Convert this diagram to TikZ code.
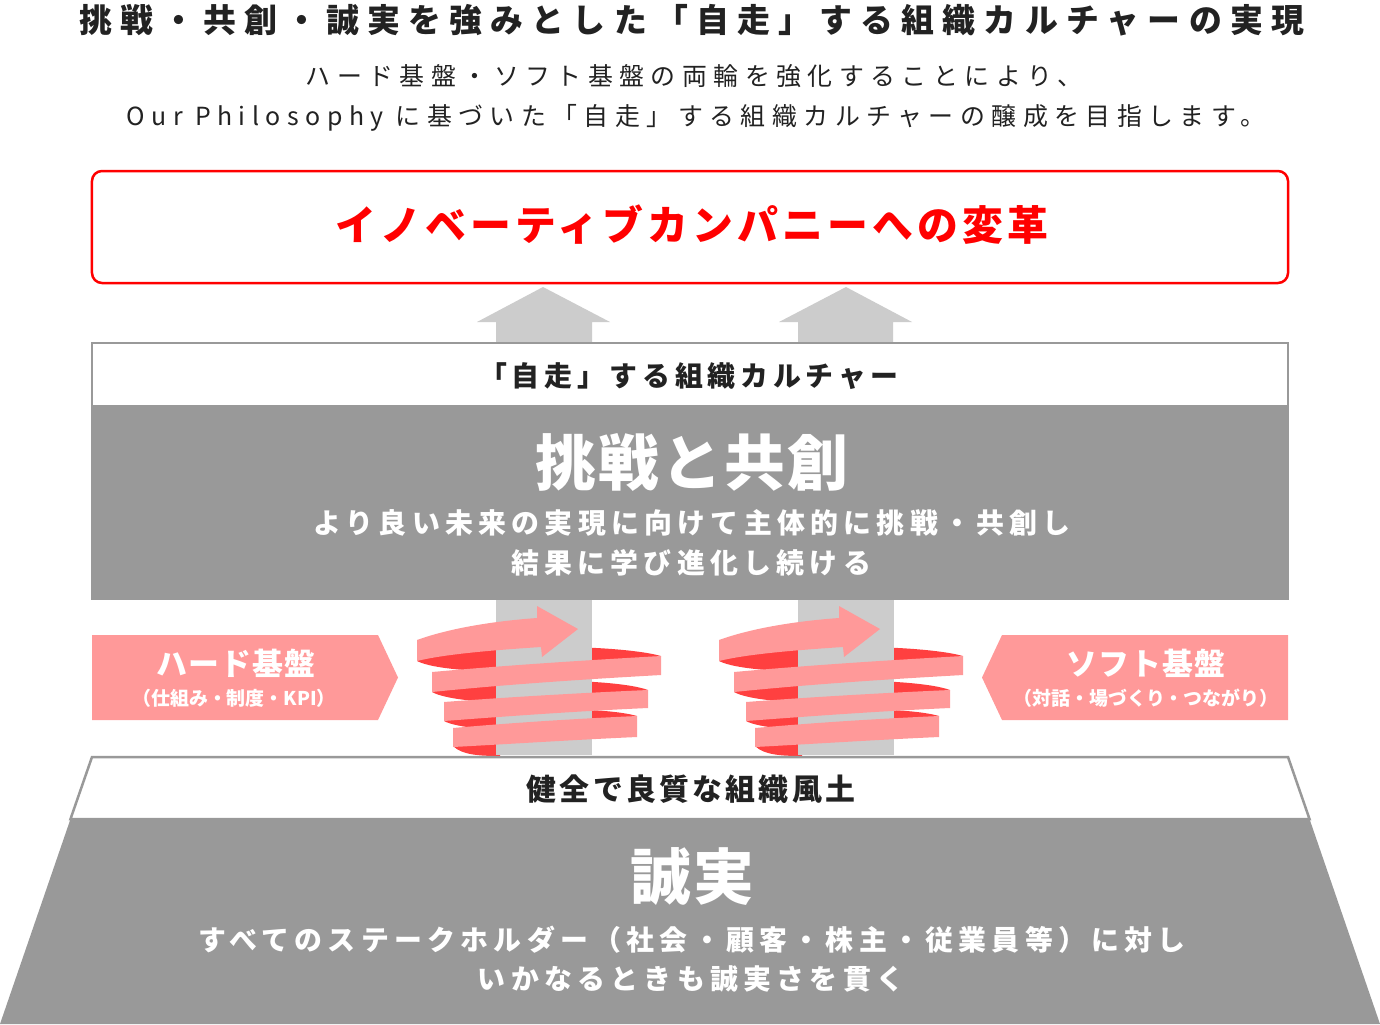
\documentclass[tikz,border=0pt]{standalone}
\usepackage{fontspec}
\setmainfont{Noto Sans CJK JP}
\definecolor{gdark}{HTML}{999999}
\definecolor{glight}{HTML}{CCCCCC}
\definecolor{pinkband}{HTML}{FF9999}
\definecolor{rdark}{HTML}{FF4040}
\definecolor{redmain}{HTML}{FF0000}
\definecolor{txtdark}{HTML}{222222}
\newcommand\jfb[2]{\fontsize{#1}{#1}\selectfont\bfseries\addfontfeature{LetterSpace=#2}}
\newcommand\jfr[2]{\fontsize{#1}{#1}\selectfont\addfontfeature{LetterSpace=#2}}
\newcommand\spiralribbon{%
  % back side of ribbon
  \fill[rdark] (417,661) .. controls (440,644) and (610,642) .. (661,656) .. controls (620,674) and (450,678) .. (417,661) -- cycle;
  \fill[rdark] (432,692) .. controls (450,678) and (610,676) .. (648,690) .. controls (610,706) and (460,708) .. (432,692) -- cycle;
  \fill[rdark] (444,721) .. controls (460,707) and (600,705) .. (637,716) .. controls (600,733) and (470,735) .. (444,721) -- cycle;
  \fill[rdark] (453,746) .. controls (462,755) and (480,756) .. (500,756) -- (500,738) -- cycle;
  % column
  \fill[glight] (496,600) rectangle (592,755);
  % front side of ribbon
  \fill[pinkband] (417,640) .. controls (450,628) and (495,621) .. (537,618) -- (537,606) -- (578,629) -- (542,657) -- (541,647) .. controls (495,650) and (445,654) .. (417,661) -- cycle;
  \fill[pinkband] (432,672) .. controls (510,665) and (590,660) .. (661,656) -- (661,675) .. controls (590,679) and (510,684) .. (432,692) -- cycle;
  \fill[pinkband] (444,702) .. controls (510,697) and (580,693) .. (648,690) -- (648,708) .. controls (580,711) and (510,716) .. (444,721) -- cycle;
  \fill[pinkband] (453,728) .. controls (510,723) and (570,719) .. (637,716) -- (637,737) .. controls (570,740) and (510,744) .. (453,747) -- cycle;
}
\begin{document}
\begin{tikzpicture}[x=1bp,y=-1bp,
  txtnode/.style={inner sep=0pt, anchor=center},
  upshape/.style={fill=glight},
  bandbox/.style={draw=gdark, line width=2bp, fill=white},
  baseshape/.style={fill=pinkband}]
\useasboundingbox (0,0) rectangle (1380,1024);
\fill[white] (0,0) rectangle (1380,1024);

% heading
\node[txtnode, text=txtdark, font=\jfb{33}{25}] (title) at (692,20) {挑戦・共創・誠実を強みとした「自走」する組織カルチャーの実現};
\node[txtnode, text=txtdark, font=\jfr{25}{26}] (sub1) at (694,76) {ハード基盤・ソフト基盤の両輪を強化することにより、};
\node[txtnode, text=txtdark, font=\jfr{25}{26}] (sub2) at (696,118) {Our Philosophy に基づいた「自走」する組織カルチャーの醸成を目指します。};

% goal box
\node[draw=redmain, line width=2.5bp, rounded corners=10bp, minimum width=1196bp, minimum height=112bp, inner sep=0pt] (goal) at (690,227) {};
\node[txtnode, text=redmain, font=\jfb{41}{10}] (goaltext) at (692,225) {イノベーティブカンパニーへの変革};

% up arrows
\fill[upshape] (543,287) -- (610,322) -- (592,322) -- (592,343) -- (496,343) -- (496,322) -- (477,322) -- cycle;
\fill[upshape] (846,287) -- (912,322) -- (893,322) -- (893,343) -- (798,343) -- (798,322) -- (779,322) -- cycle;

% culture band
\node[bandbox, minimum width=1196bp, minimum height=63bp, inner sep=0pt] (culture) at (690,374.5) {};
\node[txtnode, text=txtdark, font=\jfb{28}{17}] (culturetext) at (689,376) {「自走」する組織カルチャー};
\fill[gdark] (91,406) rectangle (1289,600);
\node[txtnode, text=white, font=\jfb{61}{4}] (challenge) at (692,462) {挑戦と共創};
\node[txtnode, text=white, font=\jfb{28}{19}] (ch1) at (692,523) {より良い未来の実現に向けて主体的に挑戦・共創し};
\node[txtnode, text=white, font=\jfb{28}{19}] (ch2) at (691,563) {結果に学び進化し続ける};

% spirals
\spiralribbon
\begin{scope}[shift={(302,0)}]
\spiralribbon
\end{scope}

% hard / soft foundations
\fill[baseshape] (92,635) -- (378,635) -- (398,677.5) -- (378,720) -- (92,720) -- cycle;
\node[txtnode, text=white, font=\jfb{31}{3}] (hard) at (236,663) {ハード基盤};
\node[txtnode, text=white, font=\jfb{19}{0}] (hardsub) at (234,698) {（仕組み・制度・KPI）};
\fill[baseshape] (1288,635) -- (1002,635) -- (982,677.5) -- (1002,720) -- (1288,720) -- cycle;
\node[txtnode, text=white, font=\jfb{31}{3}] (soft) at (1146,663) {ソフト基盤};
\node[txtnode, text=white, font=\jfb{19}{0}] (softsub) at (1146,698) {（対話・場づくり・つながり）};

% base trapezoid
\draw[draw=gdark, line width=2.5bp, fill=white] (92,757) -- (1288,757) -- (1309.5,819) -- (70.5,819) -- cycle;
\fill[gdark] (70.5,819) -- (1309.5,819) -- (1380,1024) -- (0,1024) -- cycle;
\node[txtnode, text=txtdark, font=\jfb{30}{11}] (climate) at (691,789) {健全で良質な組織風土};
\node[txtnode, text=white, font=\jfb{61}{4}] (integrity) at (692,877) {誠実};
\node[txtnode, text=white, font=\jfb{28}{19}] (in1) at (692,940) {すべてのステークホルダー（社会・顧客・株主・従業員等）に対し};
\node[txtnode, text=white, font=\jfb{28}{19}] (in2) at (691,979) {いかなるときも誠実さを貫く};
\end{tikzpicture}
\end{document}
